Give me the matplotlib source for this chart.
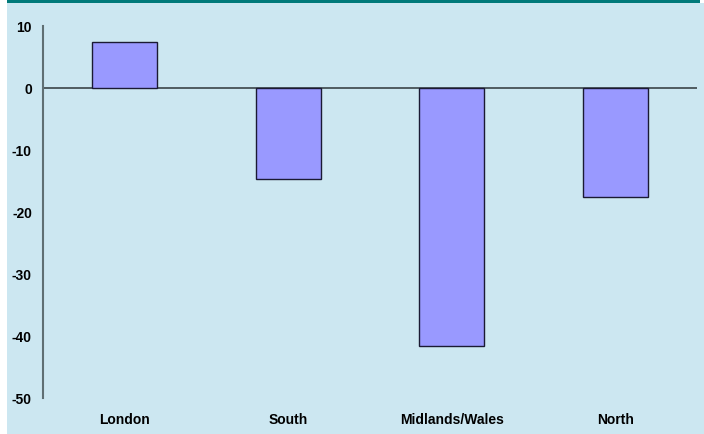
import matplotlib.pyplot as plt
from matplotlib.patches import Rectangle
import numpy as np

regions = ["London", "South", "Midlands/Wales", "North"]
values = [7.4, -14.6, -41.6, -17.5]
yticks = [10, 0, -10, -20, -30, -40, -50]

W, H = 704, 434
BG = "#cce7f1"
TEAL = "#007a7a"
BAR = "#9999ff"
AXIS = "#5f6f73"

fig = plt.figure(figsize=(W / 100, H / 100), dpi=100)
fig.patch.set_facecolor("white")
# light blue panel and teal strip along the top
fig.patches.append(Rectangle((7 / W, 0), 1 - 7 / W, 1 - 3 / H,
                             transform=fig.transFigure, facecolor=BG,
                             edgecolor="none", zorder=-2))
fig.patches.append(Rectangle((7 / W, 1 - 3 / H), (700 - 7) / W, 3 / H,
                             transform=fig.transFigure, facecolor=TEAL,
                             edgecolor="none", zorder=-2))

ax = fig.add_axes([43 / W, 1 - 398 / H, (697 - 43) / W, (398 - 26) / H])
ax.set_facecolor("none")
ax.set_zorder(1)

x = np.arange(len(regions))
ax.bar(x, values, width=0.4, color=BAR, edgecolor="#1a1a33", linewidth=1, zorder=3)

ax.set_xlim(-0.5, len(regions) - 0.5)
ax.set_ylim(-50, 10)
ax.set_yticks(yticks)
ax.set_yticklabels([str(v) for v in yticks], fontsize=10, fontweight="bold",
                   family="Liberation Sans")
ax.tick_params(axis="y", length=0, pad=8)

ax.set_xticks(x)
ax.set_xticklabels(regions, fontsize=10, fontweight="bold", family="Liberation Sans")
ax.tick_params(axis="x", length=0, pad=11)

for s in ["top", "right", "bottom"]:
    ax.spines[s].set_visible(False)
ax.spines["left"].set_color(AXIS)
ax.spines["left"].set_linewidth(1.5)
ax.axhline(0, color="#3a4448", linewidth=1.2, zorder=2)

fig.savefig("out.png", dpi=100)
